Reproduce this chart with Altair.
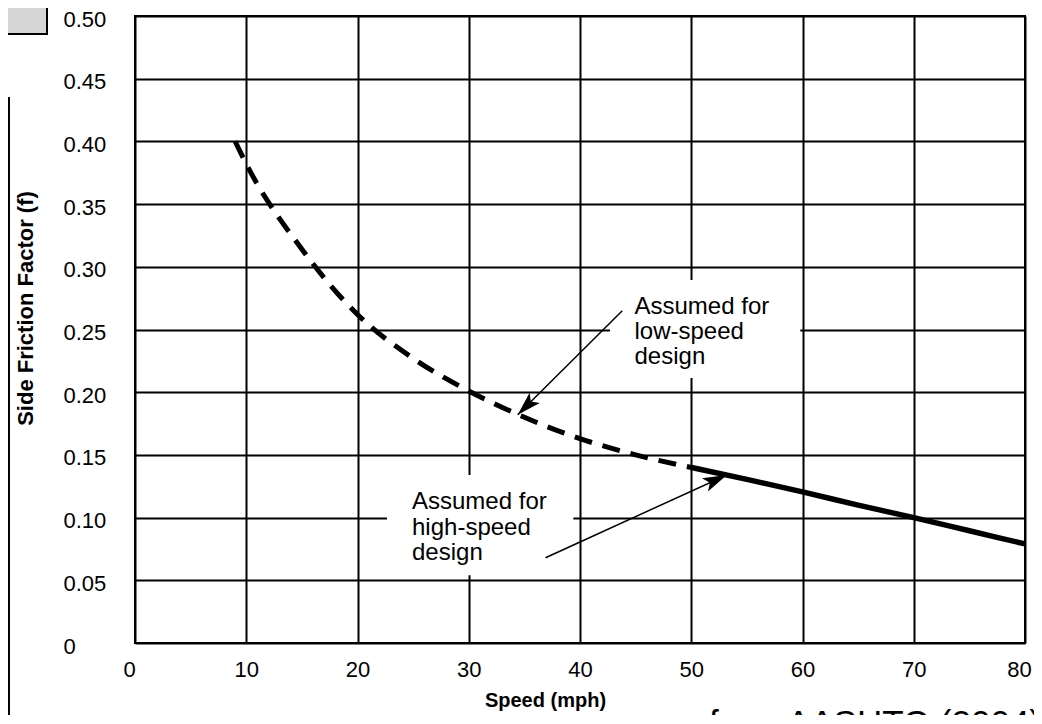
import altair as alt
import pandas as pd

# ---- data ----
speed_low = [9, 10, 15, 20, 25, 30, 35, 40, 45, 50]
f_low = [0.400, 0.382, 0.314, 0.262, 0.227, 0.201, 0.180, 0.163, 0.150, 0.140]
speed_high = [50, 55, 60, 65, 70, 75, 80]
f_high = [0.140, 0.1305, 0.1205, 0.110, 0.100, 0.0895, 0.079]

x_ticks = [0, 10, 20, 30, 40, 50, 60, 70, 80]
y_ticks = [0, 0.05, 0.10, 0.15, 0.20, 0.25, 0.30, 0.35, 0.40, 0.45, 0.50]

note_lines = ["Assumed for", "low-speed", "design", "Assumed for", "high-speed", "design"]
note_speed = [44.9, 44.9, 44.9, 24.9, 24.9, 24.9]
note_f = [0.2624, 0.2424, 0.2225, 0.1069, 0.0861, 0.0662]

box_speed = [42.7, 22.65]
box_speed2 = [59.8, 39.4]
box_f = [0.2113, 0.054]
box_f2 = [0.2895, 0.134]

arrow_speed = [43.8, 36.9]
arrow_f = [0.265, 0.068]
arrow_tip_speed = [34.4, 53.2]
arrow_tip_f = [0.182, 0.134]
arrow_angle = [225, 65.5]

source_text = ["from AASHTO (2004)"]
source_speed = [51.6]
source_f = [-0.073]

corner_speed = [-13.0]
corner_speed2 = [-7.91]
corner_f = [0.4856]
corner_f2 = [0.53]

frame_speed = [-11.35]
frame_f = [0.4354]
frame_f2 = [-0.1]

# ---- tables ----
df_low = pd.DataFrame({"speed": speed_low, "f": f_low})
df_high = pd.DataFrame({"speed": speed_high, "f": f_high})
df_notes = pd.DataFrame({"speed": note_speed, "f": note_f, "txt": note_lines})
df_boxes = pd.DataFrame({"speed": box_speed, "speed2": box_speed2, "f": box_f, "f2": box_f2})
df_arrows = pd.DataFrame({"speed": arrow_speed, "f": arrow_f,
                          "speed2": arrow_tip_speed, "f2": arrow_tip_f})
df_heads = pd.DataFrame({"speed": arrow_tip_speed, "f": arrow_tip_f, "ang": arrow_angle})
df_source = pd.DataFrame({"speed": source_speed, "f": source_f, "txt": source_text})
df_corner = pd.DataFrame({"speed": corner_speed, "speed2": corner_speed2,
                          "f": corner_f, "f2": corner_f2})
df_frame = pd.DataFrame({"speed": frame_speed, "f": frame_f, "f2": frame_f2})

sx = alt.Scale(domain=[0, 80], nice=False, zero=False)
sy = alt.Scale(domain=[0, 0.5], nice=False, zero=False)

xaxis = alt.Axis(
    values=x_ticks, format="d", grid=True, gridColor="black", gridWidth=2, gridOpacity=1,
    domain=False, ticks=True, tickSize=0, tickWidth=0,
    labelFont="Liberation Sans", labelFontSize=22, labelColor="black",
    labelPadding=16, labelBaseline="top", labelFlush=False, labelOverlap=False, labelBound=False,
    labelOffset=alt.condition("datum.value == 80 || datum.value == 0", alt.value(-6), alt.value(0)),
    title="Speed (mph)", titleFont="Liberation Sans",
    titleFontSize=20, titleFontWeight="bold", titleColor="black",
    titleX=410, titleY=57, titleAlign="center", titleBaseline="middle",
)
yaxis = alt.Axis(
    values=y_ticks, labelExpr="datum.value == 0 ? '0' : format(datum.value, '.2f')",
    grid=True, gridColor="black", gridWidth=2, gridOpacity=1,
    domain=False, ticks=True, tickSize=0, tickWidth=0,
    labelFont="Liberation Sans", labelFontSize=22, labelColor="black",
    labelPadding=72, labelAlign="left", labelBaseline="middle", labelFlush=False,
    labelOverlap=False, labelBound=False, labelOffset=3,
    title="Side Friction Factor (f)", titleFont="Liberation Sans",
    titleFontSize=22, titleFontWeight="bold", titleColor="black",
    titleAngle=270, titleX=-110, titleY=292, titleAlign="center", titleBaseline="middle",
)


def X(field="speed"):
    return alt.X(f"{field}:Q", scale=sx, axis=xaxis)


def Y(field="f"):
    return alt.Y(f"{field}:Q", scale=sy, axis=yaxis)


boxes = alt.Chart(df_boxes).mark_rect(fill="white", strokeWidth=0).encode(
    x=X(), x2="speed2:Q", y=Y(), y2="f2:Q",
)

low_line = alt.Chart(df_low).mark_line(
    color="black", strokeWidth=5, strokeDash=[18, 11], interpolate="monotone", strokeCap="butt"
).encode(x=X(), y=Y())

high_line = alt.Chart(df_high).mark_line(
    color="black", strokeWidth=5.5, interpolate="monotone"
).encode(x=X(), y=Y())

arrows = alt.Chart(df_arrows).mark_rule(color="black", strokeWidth=1.5).encode(
    x=X(), x2="speed2:Q", y=Y(), y2="f2:Q"
)

heads = alt.Chart(df_heads).mark_point(
    shape="M0,0L-0.6,2L0,1.55L0.6,2Z", filled=True, color="black", opacity=1, size=576
).encode(x=X(), y=Y(), angle=alt.Angle("ang:Q", scale=None))

notes = alt.Chart(df_notes).mark_text(
    align="left", baseline="alphabetic", font="Liberation Sans", fontSize=24, color="black"
).encode(x=X(), y=Y(), text="txt:N")

source = alt.Chart(df_source).mark_text(
    align="left", baseline="alphabetic", font="Liberation Sans", fontSize=35, color="black"
).encode(x=X(), y=Y(), text="txt:N")

corner = alt.Chart(df_corner).mark_rect(fill="#d6d6d6", stroke="black", strokeWidth=2).encode(
    x=X(), x2="speed2:Q", y=Y(), y2="f2:Q"
)

frame = alt.Chart(df_frame).mark_rule(color="black", strokeWidth=2.5).encode(
    x=X(), y=Y(), y2="f2:Q"
)

chart = alt.layer(
    boxes, low_line, high_line, arrows, heads, notes, source, corner, frame
).properties(
    width=890, height=627,
    autosize=alt.AutoSizeParams(type="none"),
    padding={"left": 127, "top": 8, "right": 9, "bottom": 72},
    background="white",
).configure_view(stroke="black", strokeWidth=2)

chart.save("out.html", embed_options={"renderer": "svg", "actions": False})
